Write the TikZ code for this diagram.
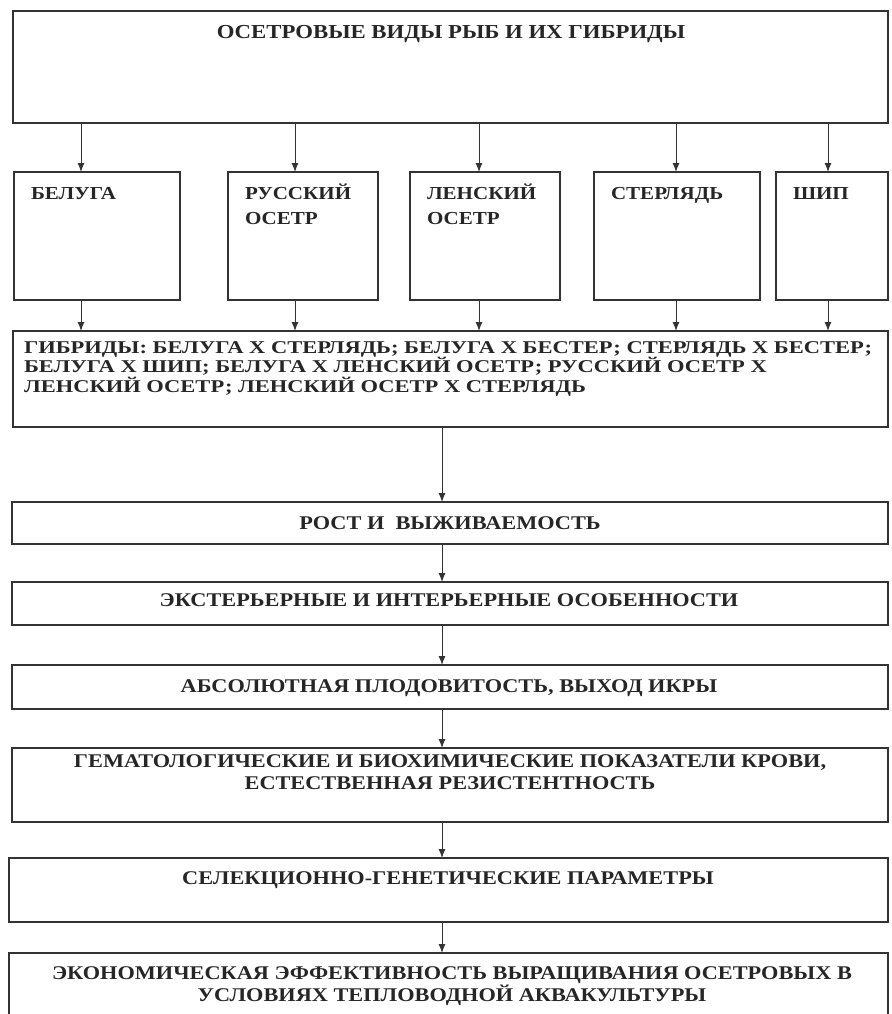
\documentclass[tikz,border=0pt]{standalone}
\usepackage{fontspec}
\setmainfont{Liberation Serif}[FakeStretch=1.15]
\newfontfamily\hybfont{Liberation Serif}[FakeStretch=1.25]
\usetikzlibrary{arrows.meta}
\begin{document}
\begin{tikzpicture}[x=1pt,y=-1pt]
	\tikzstyle{every node}+=[inner sep=0pt, outer sep=0pt]
	\tikzstyle{box}=[draw=black!80, line width=1.2pt, rectangle]
	\tikzstyle{arr}=[draw=black!80, line width=1pt, -{Latex[length=9pt,width=7pt]}]
	\tikzstyle{lbl}=[text=black!85, anchor=base, align=center, font=\bfseries\fontsize{19.4}{21.5}\selectfont]
	\tikzstyle{sp}=[text=black!85, anchor=base west, align=left, font=\bfseries\fontsize{18.3}{25}\selectfont]
	\useasboundingbox (0,0) rectangle (891,1014);
	\node[box, minimum width=875pt, minimum height=112pt] (top) at (450.5,67) {};
	\node[lbl, font=\bfseries\fontsize{19.8}{22}\selectfont] (toptxt) at (451,38.5) {ОСЕТРОВЫЕ ВИДЫ РЫБ И ИХ ГИБРИДЫ};
	\node[box, minimum width=166pt, minimum height=128pt] (belu) at (97,236) {};
	\node[sp] (belutxt) at (31,199) {БЕЛУГА};
	\node[box, minimum width=150pt, minimum height=128pt] (russ) at (303,236) {};
	\node[sp] (russtxt) at (245,224) {РУССКИЙ\\ОСЕТР};
	\node[box, minimum width=150pt, minimum height=128pt] (lena) at (485,236) {};
	\node[sp] (lenatxt) at (427,224) {ЛЕНСКИЙ\\ОСЕТР};
	\node[box, minimum width=166pt, minimum height=128pt] (ster) at (677,236) {};
	\node[sp] (stertxt) at (611,199) {СТЕРЛЯДЬ};
	\node[box, minimum width=112pt, minimum height=128pt] (ship) at (832,236) {};
	\node[sp] (shiptxt) at (793,199) {ШИП};
	\node[box, minimum width=875pt, minimum height=96pt] (hyb) at (450.5,379) {};
	\node[sp, font=\hybfont\bfseries\fontsize{18}{19.5}\selectfont] (hybtxt) at (24,392) {ГИБРИДЫ: БЕЛУГА Х СТЕРЛЯДЬ; БЕЛУГА Х БЕСТЕР; СТЕРЛЯДЬ Х БЕСТЕР;\\БЕЛУГА Х ШИП; БЕЛУГА Х ЛЕНСКИЙ ОСЕТР; РУССКИЙ ОСЕТР Х\\ЛЕНСКИЙ ОСЕТР; ЛЕНСКИЙ ОСЕТР Х СТЕРЛЯДЬ};
	\node[box, minimum width=876pt, minimum height=42pt] (rost) at (450,523) {};
	\node[lbl] (rosttxt) at (450,529.3) {РОСТ И~~ВЫЖИВАЕМОСТЬ};
	\node[box, minimum width=876pt, minimum height=43pt] (exter) at (450,603.5) {};
	\node[lbl] (extertxt) at (449,606.3) {ЭКСТЕРЬЕРНЫЕ И ИНТЕРЬЕРНЫЕ ОСОБЕННОСТИ};
	\node[box, minimum width=876pt, minimum height=44pt] (absol) at (450,687) {};
	\node[lbl] (absoltxt) at (449,692.3) {АБСОЛЮТНАЯ ПЛОДОВИТОСТЬ, ВЫХОД ИКРЫ};
	\node[box, minimum width=876pt, minimum height=74pt] (gema) at (450,785) {};
	\node[lbl] (gematxt) at (450,789.3) {ГЕМАТОЛОГИЧЕСКИЕ И БИОХИМИЧЕСКИЕ ПОКАЗАТЕЛИ КРОВИ,\\ЕСТЕСТВЕННАЯ РЕЗИСТЕНТНОСТЬ};
	\node[box, minimum width=879pt, minimum height=64pt] (sel) at (448.5,890) {};
	\node[lbl] (seltxt) at (448,884.3) {СЕЛЕКЦИОННО-ГЕНЕТИЧЕСКИЕ ПАРАМЕТРЫ};
	\node[box, minimum width=879pt, minimum height=65pt] (econ) at (448.5,985.5) {};
	\node[lbl] (econtxt) at (452,1001.3) {ЭКОНОМИЧЕСКАЯ ЭФФЕКТИВНОСТЬ ВЫРАЩИВАНИЯ ОСЕТРОВЫХ В\\УСЛОВИЯХ ТЕПЛОВОДНОЙ АКВАКУЛЬТУРЫ};
	\coordinate (c1) at (81,0);
	\coordinate (c2) at (295,0);
	\coordinate (c3) at (479,0);
	\coordinate (c4) at (676,0);
	\coordinate (c5) at (828,0);
	\coordinate (m) at (442,0);
	\foreach \s/\c in {belu/c1, russ/c2, lena/c3, ster/c4, ship/c5} {
		\draw[arr] (top.south -| \c) -- (\s.north -| \c);
		\draw[arr] (\s.south -| \c) -- (hyb.north -| \c);
	}
	\foreach \a/\b in {hyb/rost, rost/exter, exter/absol, absol/gema, gema/sel, sel/econ}
		\draw[arr] (\a.south -| m) -- (\b.north -| m);
\end{tikzpicture}
\end{document}
